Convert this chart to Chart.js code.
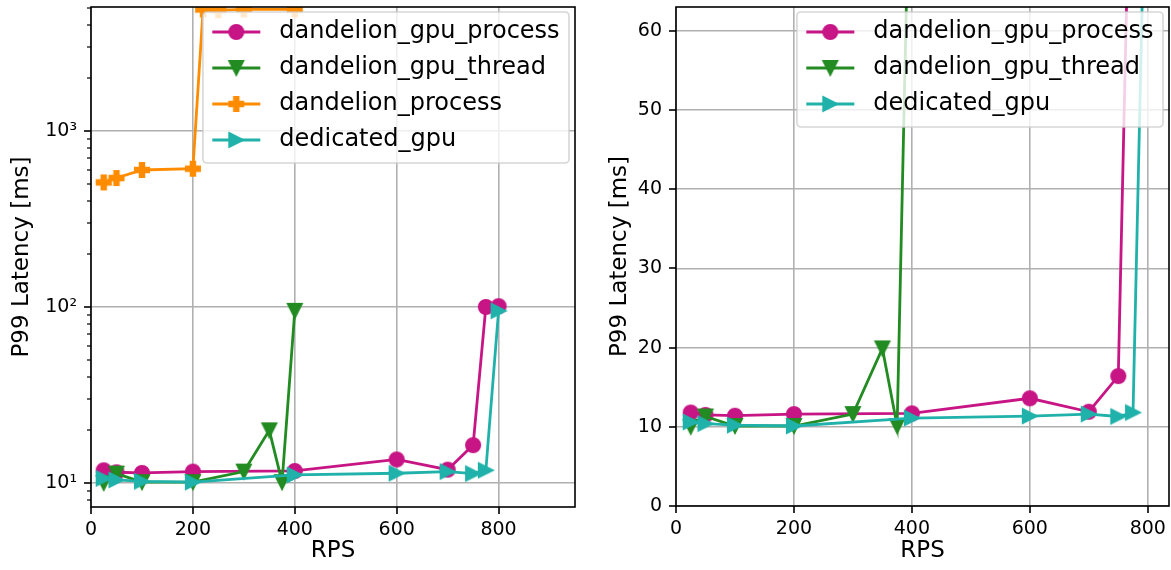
<!DOCTYPE html>
<html>
<head>
<meta charset="utf-8">
<script src="https://cdn.jsdelivr.net/npm/chart.js@4.4.1/dist/chart.umd.min.js"></script>
<style>
  body { margin: 0; background: #fff; }
  canvas { position: absolute; top: 0; }
  #left { left: 0; }
  #right { left: 585px; }
</style>
</head>
<body>
<canvas id="left" width="585" height="570"></canvas>
<canvas id="right" width="586" height="570"></canvas>
<script>
// values (RPS -> P99 latency in ms)
const rpsGpuProcess = [25, 50, 100, 200, 400, 600, 700, 750, 775, 800];
const latGpuProcess = [11.8, 11.5, 11.4, 11.6, 11.7, 13.6, 11.9, 16.4, 100, 101];

const rpsGpuThread = [25, 50, 100, 200, 300, 350, 375, 400];
const latGpuThread = [10.0, 11.3, 10.1, 10.1, 11.6, 19.9, 10.1, 95];

const rpsProcess = [25, 50, 100, 200, 220, 250, 300, 400];
const latProcess = [510, 540, 600, 610, 4900, 4850, 4900, 4900];

const rpsDedicated = [25, 50, 100, 200, 400, 600, 700, 750, 775, 800];
const latDedicated = [10.6, 10.4, 10.2, 10.1, 11.1, 11.35, 11.6, 11.3, 11.8, 95];

const xTickValues = [0, 200, 400, 600, 800];
const linTickValues = [0, 10, 20, 30, 40, 50, 60];
const logTickValues = [10, 100, 1000];
const logTickLabels = ['10\u00b9', '10\u00b2', '10\u00b3'];

const FONT = '"DejaVu Sans", sans-serif';
const GRID = '#b0b0b0';

function marker(kind, color) {
  const size = 14.5, s = 20;
  const c = document.createElement('canvas');
  c.width = s; c.height = s;
  const g = c.getContext('2d');
  g.translate(s / 2, s / 2);
  g.fillStyle = color;
  g.strokeStyle = color;
  g.lineWidth = 1.6;
  const h = size / 2;
  g.beginPath();
  if (kind === 'circle') {
    g.arc(0, 0, h, 0, Math.PI * 2);
  } else if (kind === 'down') {
    g.moveTo(-h, -h); g.lineTo(h, -h); g.lineTo(0, h); g.closePath();
  } else if (kind === 'right') {
    g.moveTo(-h, -h); g.lineTo(h, 0); g.lineTo(-h, h); g.closePath();
  } else {
    const a = size / 6;
    g.moveTo(-a, -h); g.lineTo(a, -h); g.lineTo(a, -a); g.lineTo(h, -a); g.lineTo(h, a);
    g.lineTo(a, a); g.lineTo(a, h); g.lineTo(-a, h); g.lineTo(-a, a); g.lineTo(-h, a);
    g.lineTo(-h, -a); g.lineTo(-a, -a); g.closePath();
  }
  g.fill();
  g.stroke();
  return c;
}

function series(label, xs, ys, color, kind) {
  return {
    label: label,
    data: xs.map((x, i) => ({x: x, y: ys[i]})),
    borderColor: color,
    backgroundColor: color,
    borderWidth: 2.8,
    pointStyle: marker(kind, color),
    pointRadius: 7,
    tension: 0
  };
}

// matplotlib-like frame + outward tick marks
const axisFrame = {
  id: 'axisFrame',
  afterDatasetsDraw(chart) {
    const {ctx, chartArea: a, scales} = chart;
    ctx.save();
    ctx.strokeStyle = '#000';
    scales.x.ticks.forEach(t => {
      const px = Math.round(scales.x.getPixelForValue(t.value));
      ctx.lineWidth = 1.6;
      ctx.beginPath(); ctx.moveTo(px, a.bottom); ctx.lineTo(px, a.bottom + 7); ctx.stroke();
    });
    scales.y.ticks.forEach(t => {
      const py = Math.round(scales.y.getPixelForValue(t.value));
      const len = t.minor ? 4 : 7;
      ctx.lineWidth = t.minor ? 1.2 : 1.6;
      ctx.beginPath(); ctx.moveTo(a.left, py); ctx.lineTo(a.left - len, py); ctx.stroke();
    });
    ctx.lineWidth = 1.6;
    ctx.strokeRect(a.left, a.top, a.width, a.height);
    ctx.restore();
  }
};

const boxLegend = {
  id: 'boxLegend',
  afterDraw(chart) {
    const {ctx, chartArea: a} = chart;
    const sets = chart.data.datasets;
    ctx.save();
    ctx.font = '24px ' + FONT;
    const textW = Math.max(...sets.map(d => ctx.measureText(d.label).width));
    const pad = 9.4, handle = 48, gap = 19, rowH = 36;
    const w = pad + handle + gap + textW + pad;
    const h = 20 + (sets.length - 1) * rowH + 23;
    const x0 = a.right - 6 - w, y0 = a.top + 5;
    ctx.beginPath();
    ctx.roundRect(x0, y0, w, h, 4);
    ctx.fillStyle = 'rgba(255,255,255,0.8)';
    ctx.fill();
    ctx.strokeStyle = 'rgba(204,204,204,0.8)';
    ctx.lineWidth = 1.6;
    ctx.stroke();
    sets.forEach((d, i) => {
      const cy = y0 + 20 + i * rowH;
      ctx.strokeStyle = d.borderColor;
      ctx.lineWidth = d.borderWidth;
      ctx.beginPath(); ctx.moveTo(x0 + pad, cy); ctx.lineTo(x0 + pad + handle, cy); ctx.stroke();
      const img = d.pointStyle;
      ctx.drawImage(img, x0 + pad + handle / 2 - img.width / 2, cy - img.height / 2);
      ctx.fillStyle = '#000';
      ctx.textBaseline = 'middle';
      ctx.fillText(d.label, x0 + pad + handle + gap, cy);
    });
    ctx.restore();
  }
};

function fixedTicks(values) {
  return s => { s.ticks = values.map(v => ({value: v})); };
}

function xAxis(max, height) {
  return {
    type: 'linear',
    min: 0,
    max: max,
    afterBuildTicks: fixedTicks(xTickValues),
    ticks: {color: '#000', font: {family: FONT, size: 19}, padding: 12, maxRotation: 0, autoSkip: false},
    grid: {color: GRID, lineWidth: 1.6, drawTicks: false},
    border: {display: false},
    title: {display: true, text: 'RPS', color: '#000', font: {family: FONT, size: 23}, padding: {top: 0, bottom: 5}},
    afterFit(s) { s.height = height; s.paddingLeft = 0; s.paddingRight = 0; }
  };
}

function yAxisFit(titlePad) {
  return {
    title: {display: true, text: 'P99 Latency [ms]', color: '#000', font: {family: FONT, size: 23}, padding: {top: titlePad, bottom: 0}},
    border: {display: false},
    afterFit(s) { s.width = 91; s.paddingTop = 0; s.paddingBottom = 0; }
  };
}

function makeChart(id, datasets, yScale, xScale, padRight) {
  datasets.forEach((d, i) => { d.order = datasets.length - i; });
  return new Chart(document.getElementById(id), {
    type: 'line',
    data: {datasets: datasets},
    options: {
      responsive: false,
      animation: false,
      devicePixelRatio: 1,
      layout: {autoPadding: false, padding: {left: 0, top: 7, right: padRight, bottom: 0}},
      plugins: {legend: {display: false}, tooltip: {enabled: false}},
      scales: {x: xScale, y: yScale}
    },
    plugins: [axisFrame, boxLegend]
  });
}

// left: log scale, all four series
const logY = Object.assign(yAxisFit(8), {
  type: 'logarithmic',
  min: 7.3,
  max: 5060,
  afterBuildTicks(s) {
    const ticks = [];
    for (let e = 0; e <= 3; e++) {
      for (let m = 1; m <= 9; m++) {
        const v = m * Math.pow(10, e);
        if (v >= s.min && v <= s.max) ticks.push({value: v, minor: m !== 1});
      }
    }
    s.ticks = ticks;
  },
  ticks: {
    color: '#000', font: {family: FONT, size: 19}, padding: 14, autoSkip: false,
    callback: v => { const i = logTickValues.indexOf(v); return i >= 0 ? logTickLabels[i] : ''; }
  },
  grid: {color: c => (c.tick && c.tick.minor ? 'rgba(0,0,0,0)' : GRID), lineWidth: 1.6, drawTicks: false}
});

makeChart('left', [
  series('dandelion_gpu_process', rpsGpuProcess, latGpuProcess, '#c71585', 'circle'),
  series('dandelion_gpu_thread', rpsGpuThread, latGpuThread, '#228b22', 'down'),
  series('dandelion_process', rpsProcess, latProcess, '#ff8c00', 'plus'),
  series('dedicated_gpu', rpsDedicated, latDedicated, '#20b2aa', 'right')
], logY, xAxis(950, 63), 10);

// right: linear scale, without dandelion_process
const linY = Object.assign(yAxisFit(21), {
  type: 'linear',
  min: 0,
  max: 63,
  afterBuildTicks: fixedTicks(linTickValues),
  ticks: {color: '#000', font: {family: FONT, size: 19}, padding: 14, autoSkip: false},
  grid: {color: GRID, lineWidth: 1.6, drawTicks: false}
});

makeChart('right', [
  series('dandelion_gpu_process', rpsGpuProcess, latGpuProcess, '#c71585', 'circle'),
  series('dandelion_gpu_thread', rpsGpuThread, latGpuThread, '#228b22', 'down'),
  series('dedicated_gpu', rpsDedicated, latDedicated, '#20b2aa', 'right')
], linY, xAxis(836, 64), 2);
</script>
</body>
</html>
